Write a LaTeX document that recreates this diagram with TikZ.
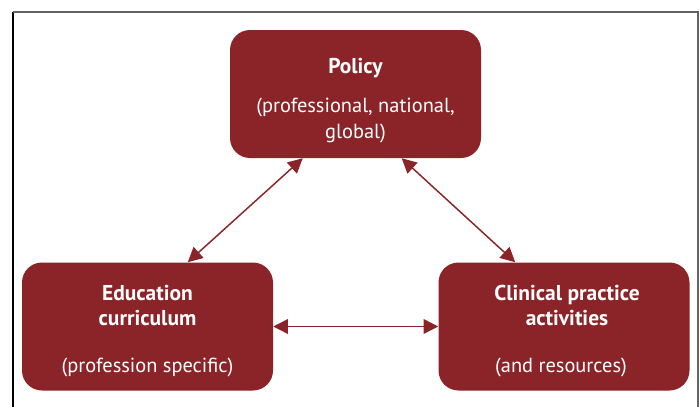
\documentclass[tikz,border=0pt]{standalone}
\usepackage{fontspec}
\setmainfont{PT Sans}
\usetikzlibrary{arrows.meta,calc}
\definecolor{boxred}{RGB}{139,36,40}
\definecolor{framegray}{RGB}{100,100,100}
\begin{document}
\begin{tikzpicture}[x=0.75pt,y=-0.75pt,
  box/.style={fill=boxred, draw=none, rounded corners=15pt, minimum width=188.25pt, minimum height=96pt, inner sep=0pt},
  txt/.style={text=white, anchor=base, inner sep=0pt, font=\fontsize{15.3}{18}\selectfont},
  ttl/.style={txt, font=\fontsize{16.1}{19}\selectfont\bfseries},
  link/.style={draw=boxred, line width=1.1pt, {Triangle[length=11pt,width=11pt]}-{Triangle[length=11pt,width=11pt]}},
  frameline/.style={line width=1.1pt}]
\useasboundingbox (0,0) rectangle (700,407);
% frame
\draw[frameline, black] (13,407) -- (13,12);
\draw[frameline, framegray] (13,12) -- (698,12) -- (698,407);
% boxes
\node[box] (pol) at (355.5,94) {};
\node[box] (edu) at (147.5,326.5) {};
\node[box] (cli) at (564,326.5) {};
% texts
\node[ttl] (polt) at (355.5,73) {Policy};
\node[txt] (pol1) at (355.5,112) {(professional, national,};
\node[txt] (pol2) at (355.5,138) {global)};
\node[ttl] (edut1) at (147.5,300) {Education};
\node[ttl] (edut2) at (147.5,325) {curriculum};
\node[txt] (edus) at (147.5,372) {(profession specific)};
\node[ttl] (clit1) at (567,300) {Clinical practice};
\node[ttl] (clit2) at (567,325) {activities};
\node[txt] (clis) at (561,372) {(and resources)};
% connectors
\draw[link] ($(pol.south west)+(73,0)$) -- ($(edu.north west)+(166,0)$);
\draw[link] ($(pol.south west)+(172,0)$) -- ($(cli.north west)+(77,0)$);
\draw[link] (edu.east) -- (cli.west);
\end{tikzpicture}
\end{document}
